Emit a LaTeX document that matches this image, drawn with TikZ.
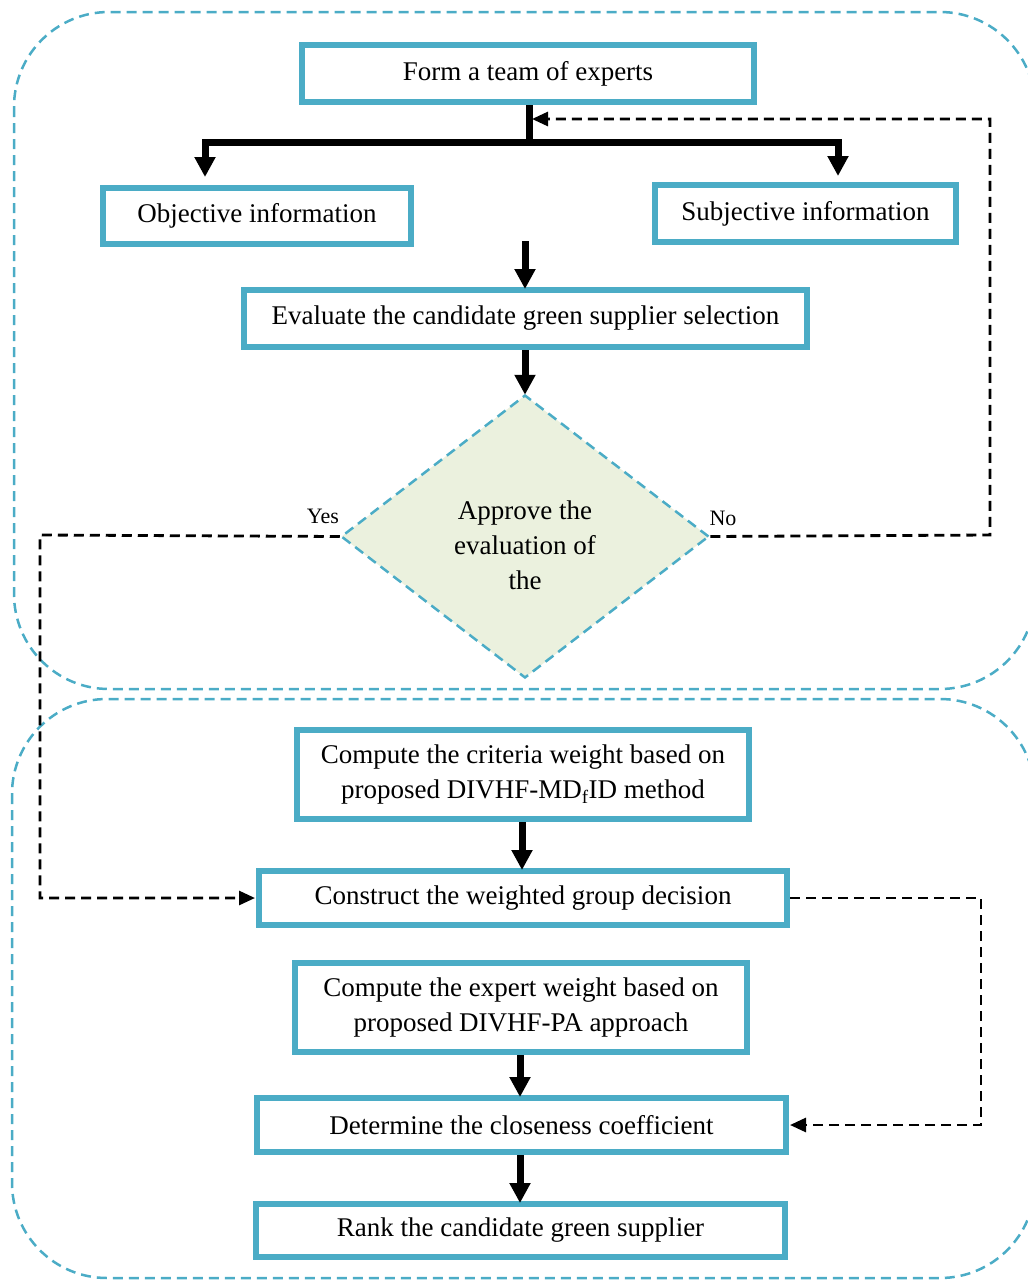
\documentclass[tikz,border=0pt]{standalone}
\usepackage{fontspec}
\setmainfont{Liberation Serif}
\usetikzlibrary{arrows.meta,shapes.geometric}
\definecolor{boxblue}{HTML}{4BACC6}
\definecolor{diafill}{HTML}{EBF1DE}
\tikzset{
  flowbox/.style={draw=boxblue,line width=6pt,fill=white,inner sep=0pt,align=center,
    font=\fontsize{27}{35}\selectfont},
  groupframe/.style={draw=boxblue,line width=2.5pt,dash pattern=on 10pt off 6pt,rounded corners=95pt},
  thickline/.style={line width=7pt},
  thickarrow/.style={line width=7pt,-{Triangle[width=20pt,length=20pt]}},
  dasharrow/.style={line width=2.8pt,dash pattern=on 10pt off 6pt,-{Triangle[width=14pt,length=16pt]}},
  lbl/.style={font=\fontsize{22}{26}\selectfont,inner sep=0pt}
}
\begin{document}
\begin{tikzpicture}[x=1pt,y=-1pt]
\useasboundingbox (0,0) rectangle (1028,1280);
\clip (0,0) rectangle (1028,1280);
% group frames
\draw[groupframe] (14,12) rectangle (1035,689);
\draw[groupframe] (12,699) rectangle (1035,1278);
% boxes
\node[flowbox,minimum width=452pt,minimum height=57pt] (form) at (528,73.5) {Form a team of experts};
\node[flowbox,minimum width=308pt,minimum height=56pt] (obj) at (257,216) {Objective information};
\node[flowbox,minimum width=301pt,minimum height=57pt] (subj) at (805.5,213.5) {Subjective information};
\node[flowbox,minimum width=563pt,minimum height=57pt] (eval) at (525.5,318.5) {Evaluate the candidate green supplier selection};
\node[diamond,draw=boxblue,fill=diafill,line width=2.5pt,dash pattern=on 10pt off 6pt,inner sep=0pt,
  minimum width=368pt,minimum height=283pt] (dia) at (525,536.5) {};
\node[font=\fontsize{27}{35}\selectfont,align=center,inner sep=0pt] (diatext) at (525,545) {Approve the\\evaluation of\\the};
\node[flowbox,minimum width=452pt,minimum height=89pt] (crit) at (523,774.5) {Compute the criteria weight based on\\proposed DIVHF-MD\textsubscript{f}ID method};
\node[flowbox,minimum width=528pt,minimum height=54pt] (cons) at (523,898) {Construct the weighted group decision};
\node[flowbox,minimum width=452pt,minimum height=89pt] (expw) at (521,1007.5) {Compute the expert weight based on\\proposed DIVHF-PA approach};
\node[flowbox,minimum width=529pt,minimum height=54pt] (close) at (521.5,1125) {Determine the closeness coefficient};
\node[flowbox,minimum width=529pt,minimum height=53pt] (rank) at (520.5,1230.5) {Rank the candidate green supplier};
% labels
\node[lbl] (yes) at (323,516) {Yes};
\node[lbl] (no) at (723,518) {No};
% coordinates
\coordinate (jn) at (529,142.5);
\coordinate (objtip) at (205,177);
\coordinate (subjtip) at (838,176);
\coordinate (midtop) at (525,241);
\coordinate (fbA) at (990,535);
\coordinate (fbB) at (990,119);
\coordinate (fbtip) at (532,119);
\coordinate (yA) at (40,535);
\coordinate (yB) at (40,898);
\coordinate (cA) at (981,898);
\coordinate (cB) at (981,1125);
% thick connectors
\draw[thickline] (form.south -| jn) -- ([yshift=3.5pt]jn);
\draw[thickarrow,rounded corners=0pt] (jn) -| (objtip);
\draw[thickarrow] (jn) -| (subjtip);
\draw[thickarrow] (midtop) -- ([yshift=-2pt]midtop |- eval.north);
\draw[thickarrow] (eval.south -| dia.north) -- ([yshift=-1pt]dia.north);
\draw[thickarrow] (crit.south -| 522,0) -- ([yshift=-2pt]cons.north -| 522,0);
\draw[thickarrow] (expw.south -| 520,0) -- ([yshift=-2pt]close.north -| 520,0);
\draw[thickarrow] (close.south -| 520,0) -- ([yshift=-2pt]rank.north -| 520,0);
% dashed connectors
\draw[dasharrow] (dia.east) -- (fbA) -- (fbB) -- (fbtip);
\draw[dasharrow] (dia.west) -- (yA) -- (yB) -- ([xshift=-1pt]cons.west);
\draw[dasharrow] (cons.east) -- (cA) -- (cB) -- ([xshift=1pt]close.east);
\end{tikzpicture}
\end{document}
